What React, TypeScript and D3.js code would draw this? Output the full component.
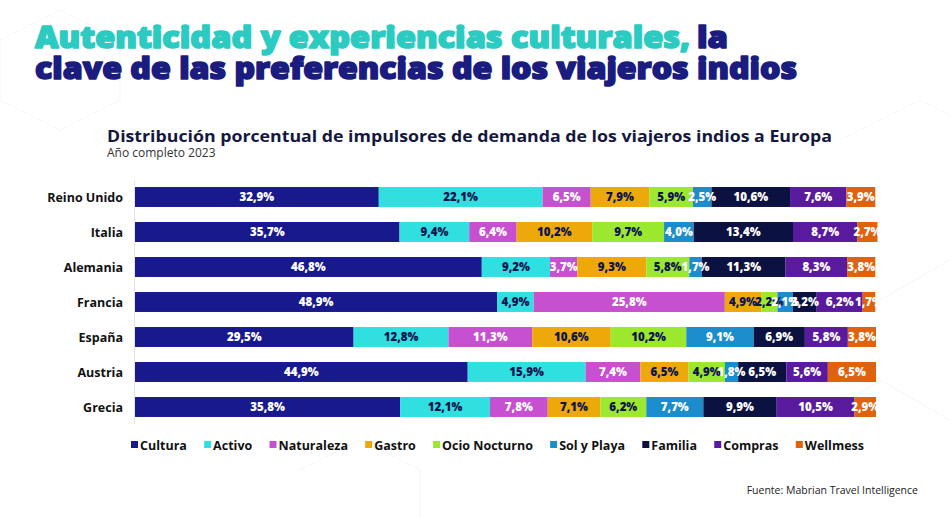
import React from "react";
import * as d3 from "d3";

const countries = ["Reino Unido", "Italia", "Alemania", "Francia", "España", "Austria", "Grecia"];
const segments = ["Cultura", "Activo", "Naturaleza", "Gastro", "Ocio Nocturno", "Sol y Playa", "Familia", "Compras", "Wellmess"];
const segmentColors = ["#18198c", "#30e0e0", "#c650cf", "#eda80a", "#9be82e", "#1b8ccc", "#0b1140", "#5a1a9e", "#e0620e"];
const labelColors = ["#ffffff", "#0d1450", "#ffffff", "#0d1450", "#0d1450", "#ffffff", "#ffffff", "#ffffff", "#ffffff"];

const reinoUnido = [32.9, 22.1, 6.5, 7.9, 5.9, 2.5, 10.6, 7.6, 3.9];
const italia = [35.7, 9.4, 6.4, 10.2, 9.7, 4.0, 13.4, 8.7, 2.7];
const alemania = [46.8, 9.2, 3.7, 9.3, 5.8, 1.7, 11.3, 8.3, 3.8];
const francia = [48.9, 4.9, 25.8, 4.9, 2.2, 2.1, 3.2, 6.2, 1.7];
const espana = [29.5, 12.8, 11.3, 10.6, 10.2, 9.1, 6.9, 5.8, 3.8];
const austria = [44.9, 15.9, 7.4, 6.5, 4.9, 1.8, 6.5, 5.6, 6.5];
const grecia = [35.8, 12.1, 7.8, 7.1, 6.2, 7.7, 9.9, 10.5, 2.9];

const values = [reinoUnido, italia, alemania, francia, espana, austria, grecia];

const fmt = (v: number) => v.toFixed(1).replace(".", ",") + "%";

const FONT = "'Open Sans', 'DejaVu Sans', sans-serif";

function measure(text: string, font: string): number {
  const c = document.createElement("canvas");
  const ctx = c.getContext("2d");
  if (!ctx) return text.length * 7;
  ctx.font = font;
  return ctx.measureText(text).width;
}

export default function App() {
  const W = 950;
  const H = 518;

  const x = d3.scaleLinear().domain([0, 100]).range([135, 876]);
  const y = d3
    .scaleBand<string>()
    .domain(countries)
    .range([179.5, 424.5])
    .paddingInner(0.43)
    .paddingOuter(0.215);

  const rows = countries.map((c, i) => {
    const vals = values[i];
    let acc = 0;
    const segs = vals.map((v, j) => {
      const s = { key: segments[j], x0: acc, x1: acc + v, v, j };
      acc += v;
      return s;
    });
    return { country: c, segs };
  });

  const legendFont = `700 12.5px ${FONT}`;
  const sq = 7;
  const textOff = 9;
  const itemWidths = segments.map((s) => textOff + measure(s, legendFont));
  const legendStart = 131;
  const legendEnd = 864;
  const totalItems = d3.sum(itemWidths);
  const gap = (legendEnd - legendStart - totalItems) / (segments.length - 1);
  const legendX: number[] = [];
  let lx = legendStart;
  itemWidths.forEach((w) => {
    legendX.push(lx);
    lx += w + gap;
  });
  const legendY = 445;

  const titleFont = "'Open Sans', 'DejaVu Sans', sans-serif";

  return (
    <svg width={W} height={H} viewBox={`0 0 ${W} ${H}`} style={{ display: "block", position: "absolute", left: 0, top: 0, background: "#ffffff" }}>
      <rect x={0} y={0} width={W} height={H} fill="#ffffff" />
      <g stroke="#f5f5f7" strokeWidth={1} fill="none">
        <path d="M0,40 L60,10 L120,40 L120,100 L60,130 L0,100 Z" />
        <path d="M840,140 L920,100 L950,115" />
        <path d="M880,300 L950,260" />
        <path d="M820,420 L880,380 L950,420" />
        <path d="M300,470 L360,440 L420,470 L420,518" />
      </g>

      <text x={35} y={48} fontFamily={titleFont} fontWeight={800} fontSize={30} fill="#2ccbc2" stroke="#2ccbc2" strokeWidth={1.6} strokeLinejoin="round" textLength={655} lengthAdjust="spacingAndGlyphs">
        Autenticidad y experiencias culturales,
      </text>
      <text x={697} y={48} fontFamily={titleFont} fontWeight={800} fontSize={30} fill="#1b1c80" stroke="#1b1c80" strokeWidth={1.6} strokeLinejoin="round" textLength={31} lengthAdjust="spacingAndGlyphs">
        la
      </text>
      <text x={35} y={79} fontFamily={titleFont} fontWeight={800} fontSize={30} fill="#1b1c80" stroke="#1b1c80" strokeWidth={1.6} strokeLinejoin="round" textLength={762} lengthAdjust="spacingAndGlyphs">
        clave de las preferencias de los viajeros indios
      </text>

      <text x={107} y={142} fontFamily={FONT} fontWeight={700} fontSize={16.5} fill="#15183e" textLength={725} lengthAdjust="spacingAndGlyphs">
        Distribución porcentual de impulsores de demanda de los viajeros indios a Europa
      </text>
      <text x={107} y={157} fontFamily={FONT} fontWeight={400} fontSize={12} fill="#333333">
        Año completo 2023
      </text>

      <line x1={134.5} x2={134.5} y1={180} y2={424} stroke="#e6e6e6" strokeWidth={1} />

      {rows.map((r) => (
        <text key={r.country} x={123} y={(y(r.country) as number) + y.bandwidth() / 2 + 4.5} textAnchor="end" fontFamily={FONT} fontWeight={700} fontSize={12.5} fill="#111111">
          {r.country}
        </text>
      ))}

      {rows.map((r) => (
        <g key={r.country}>
          {r.segs.map((s) => (
            <rect key={s.key} x={x(s.x0)} y={y(r.country) as number} width={x(s.x1) - x(s.x0)} height={y.bandwidth()} fill={segmentColors[s.j]} />
          ))}
        </g>
      ))}
      {rows.map((r) => (
        <g key={r.country + "-l"}>
          {r.segs.map((s) => (
            <text key={s.key} x={(x(s.x0) + x(s.x1)) / 2} y={(y(r.country) as number) + y.bandwidth() / 2 + 4} textAnchor="middle" fontFamily={FONT} fontWeight={800} fontSize={11.5} fill={labelColors[s.j]}>
              {fmt(s.v)}
            </text>
          ))}
        </g>
      ))}

      {segments.map((s, i) => (
        <g key={s} transform={`translate(${legendX[i]},${legendY})`}>
          <rect x={0} y={-sq / 2 - 0.5} width={sq} height={sq} fill={segmentColors[i]} />
          <text x={textOff} y={4.5} fontFamily={FONT} fontWeight={700} fontSize={12.5} fill="#111111">
            {s}
          </text>
        </g>
      ))}

      <text x={918} y={494} textAnchor="end" fontFamily={FONT} fontWeight={400} fontSize={10.5} fill="#222222">
        Fuente: Mabrian Travel Intelligence
      </text>
    </svg>
  );
}
